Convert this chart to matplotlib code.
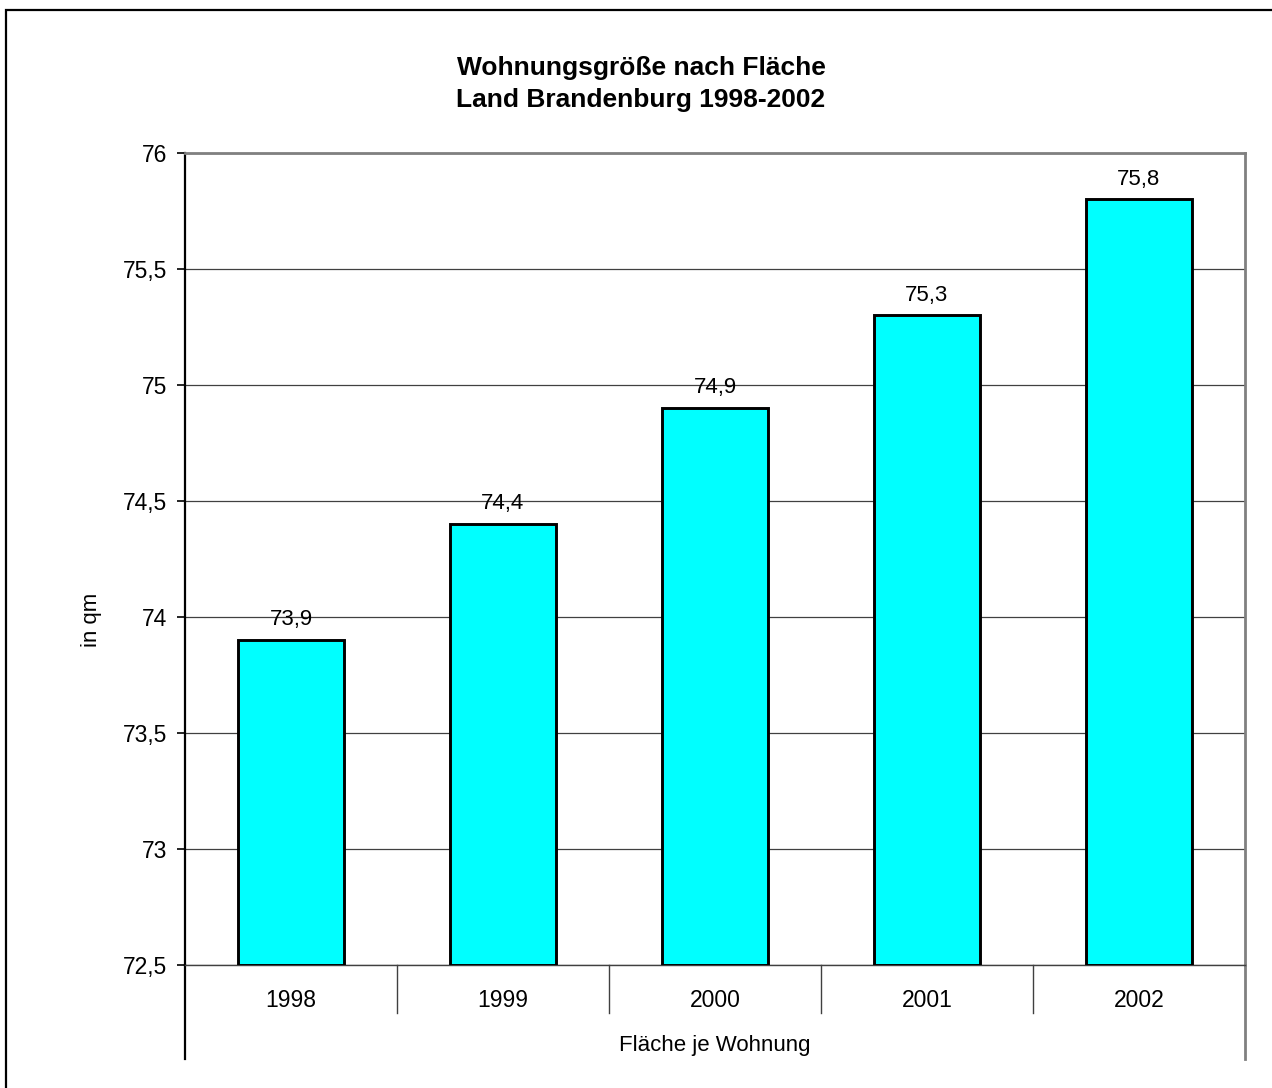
import matplotlib.pyplot as plt
import matplotlib.patches as patches
from matplotlib.ticker import FuncFormatter, MultipleLocator

plt.rcParams['font.family'] = ['Liberation Sans', 'DejaVu Sans']

years = ["1998", "1999", "2000", "2001", "2002"]
flaeche = [73.9, 74.4, 74.9, 75.3, 75.8]
base = 72.5


def komma(v, pos=None):
    s = f"{v:.1f}"
    if s.endswith(".0"):
        s = s[:-2]
    return s.replace(".", ",")


fig = plt.figure(figsize=(12.72, 10.88), dpi=100)
ax = fig.add_axes([185 / 1272, 1 - 965 / 1088, 1060 / 1272, 812 / 1088])

xs = range(len(years))
bars = ax.bar(xs, [v - base for v in flaeche], width=0.5, bottom=base,
              color="#00FFFF", edgecolor="black", linewidth=2.1, zorder=3)
ax.bar_label(bars, labels=[komma(v) for v in flaeche], padding=7, fontsize=16)

ax.set_xlim(-0.5, len(years) - 0.5)
ax.set_ylim(base, 76)
ax.yaxis.set_major_locator(MultipleLocator(0.5))
ax.yaxis.set_major_formatter(FuncFormatter(komma))
ax.tick_params(axis="y", labelsize=16.5, length=6, width=1.2, pad=7, color="black")
ax.set_xticks(list(xs), years)
ax.tick_params(axis="x", labelsize=16.5, length=0, pad=17)
ax.grid(axis="y", color="#404040", linewidth=0.9, zorder=0)
ax.set_axisbelow(True)

ax.spines["left"].set_color("black")
ax.spines["left"].set_linewidth(1.6)
ax.spines["bottom"].set_color("#404040")
ax.spines["bottom"].set_linewidth(1.0)
for side in ("top", "right"):
    ax.spines[side].set_color("#808080")
    ax.spines[side].set_linewidth(2.0)

# category separators below the axis
tr = ax.get_xaxis_transform()
for i in range(1, len(years)):
    ax.plot([i - 0.5, i - 0.5], [0, -48 / 812], transform=tr, color="#404040",
            linewidth=1.0, clip_on=False)
ax.plot([-0.5, -0.5], [0, -94 / 812], transform=tr, color="black",
        linewidth=1.6, clip_on=False)
ax.plot([len(years) - 0.5] * 2, [0, -94 / 812], transform=tr, color="#808080",
        linewidth=2.0, clip_on=False)

ax.text(0.5, -(1045 - 965) / 812, "Fläche je Wohnung", transform=ax.transAxes,
        ha="center", va="center", fontsize=16)
fig.text(92 / 1272, 1 - 620 / 1088, "in qm", rotation=90, ha="center",
         va="center", fontsize=16)
fig.text(641 / 1272, 1 - 84 / 1088,
         "Wohnungsgröße nach Fläche\nLand Brandenburg 1998-2002",
         ha="center", va="center", fontsize=19, fontweight="bold",
         linespacing=1.45)

fig.patches.append(patches.Rectangle((6 / 1272, -0.1), 1.2, 1 - 10 / 1088 + 0.1,
                                     transform=fig.transFigure, fill=False,
                                     edgecolor="black", linewidth=1.6))

fig.savefig("out.png", dpi=100)
